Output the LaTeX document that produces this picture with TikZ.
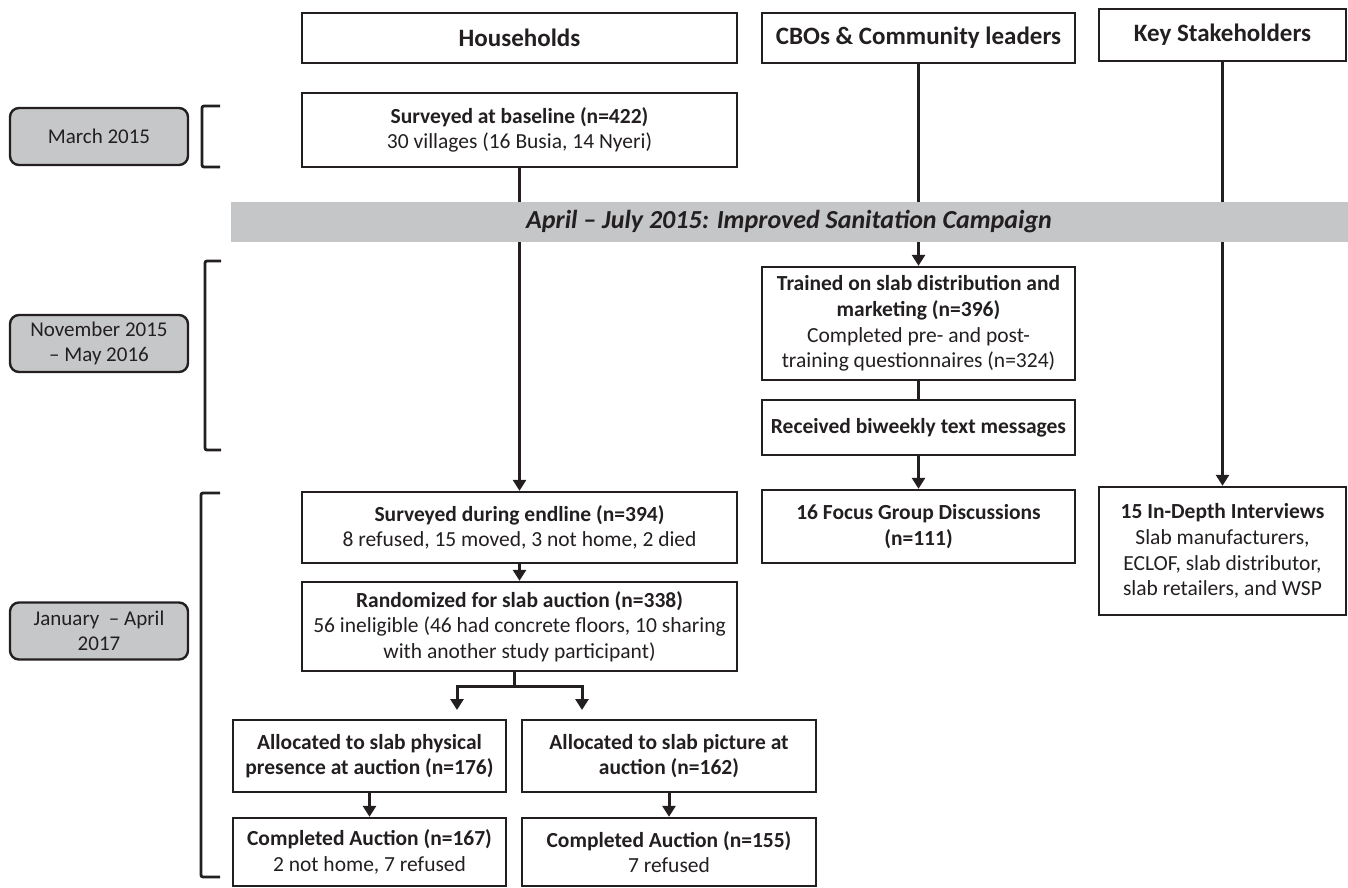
\documentclass[tikz,border=0pt]{standalone}
\usepackage{fontspec}
\setmainfont{Carlito}
\usetikzlibrary{arrows.meta, positioning}

\definecolor{ink}{HTML}{231F20}
\definecolor{bargray}{HTML}{C5C6C8}
\definecolor{dategray}{HTML}{C6C7C9}

\tikzset{
  box/.style={draw=ink, line width=2.4pt, text=ink, align=center, inner sep=0pt,
    font=\fontsize{21.5}{25.7}\selectfont},
  headbox/.style={box, font=\fontsize{25}{30}\selectfont\bfseries},
  datebox/.style={box, rounded corners=9pt, fill=dategray, minimum width=178pt,
    minimum height=57pt, font=\fontsize{21}{25.5}\selectfont},
  hhcol/.style={minimum width=435pt},
  cbocol/.style={minimum width=313pt},
  kscol/.style={minimum width=247pt},
  armcol/.style={minimum height=72pt},
  flow/.style={draw=ink, line width=3pt, -{Triangle[width=13pt,length=11pt]}},
  link/.style={draw=ink, line width=3pt},
  bracket/.style={draw=ink, line width=2.8pt, rounded corners=2pt},
}

\begin{document}
\begin{tikzpicture}[x=1pt, y=-1pt]
  \useasboundingbox (0,0) rectangle (1348,887);

  % column heads
  \node[headbox, hhcol, minimum height=50pt] (hh) at (519.5,38) {Households};
  \node[headbox, cbocol, minimum height=50pt] (cbo) at (918.5,38) {CBOs \& Community leaders};
  \node[headbox, kscol, minimum height=52pt] (ks) at (1222.5,35) {Key Stakeholders};

  % timeline
  \node[datebox] (mar15) at (99,136.5) {March 2015};
  \node[datebox] (nov15) at (99,343.5) {November 2015\\– May 2016};
  \node[datebox] (jan17) at (99,631) {January \ – April\\2017};

  \draw[bracket] (220,106) -- (202,106) -- (202,167) -- (220,167);
  \draw[bracket] (221,261) -- (205,261) -- (205,450) -- (221,450);
  \draw[bracket] (220,493) -- (201,493) -- (201,877) -- (220,877);

  % households
  \node[box, hhcol, minimum height=74pt] (base) at (519.5,130)
    {\textbf{Surveyed at baseline (n=422)}\\30 villages (16 Busia, 14 Nyeri)};
  \node[box, hhcol, minimum height=71pt] (endl) at (519.5,527.5)
    {\textbf{Surveyed during endline (n=394)}\\8 refused, 15 moved, 3 not home, 2 died};
  \node[box, hhcol, minimum height=89pt] (rand) at (519.5,626.5)
    {\textbf{Randomized for slab auction (n=338)}\\56 ineligible (46 had concrete floors, 10 sharing\\with another study participant)};
  \node[box, armcol, minimum width=273pt] (phys) at (369.5,756)
    {\textbf{Allocated to slab physical}\\\textbf{presence at auction (n=176)}};
  \node[box, armcol, minimum width=294pt] (pict) at (669,756)
    {\textbf{Allocated to slab picture at}\\\textbf{auction (n=162)}};
  \node[box, minimum width=273pt, minimum height=68pt] (physdone) at (369.5,852)
    {\textbf{Completed Auction (n=167)}\\2 not home, 7 refused};
  \node[box, minimum width=294pt, minimum height=68pt] (pictdone) at (669,852)
    {\textbf{Completed Auction (n=155)}\\7 refused};

  % CBOs
  \node[box, cbocol, minimum height=113pt] (train) at (918.5,323.5)
    {\textbf{Trained on slab distribution and}\\\textbf{marketing (n=396)}\\Completed pre- and post-\\training questionnaires (n=324)};
  \node[box, cbocol, minimum height=55pt] (sms) at (918.5,427.5)
    {\textbf{Received biweekly text messages}};
  \node[box, cbocol, minimum height=73pt] (fgd) at (918.5,526.5)
    {\textbf{16 Focus Group Discussions}\\\textbf{(n=111)}};

  % stakeholders
  \node[box, kscol, minimum height=128pt] (idi) at (1222.5,551)
    {\textbf{15 In-Depth Interviews}\\Slab manufacturers,\\ECLOF, slab distributor,\\slab retailers, and WSP};

  % connectors
  \draw[flow] (base) -- (endl);
  \draw[flow] (endl) -- (rand);
  \draw[flow] (cbo) -- (train);
  \draw[link] (train) -- (sms);
  \draw[flow] (sms) -- (fgd);
  \draw[flow] (ks) -- (idi);

  \coordinate (fork) at (514,686);
  \coordinate (tipL) at (457,710);
  \coordinate (tipR) at (582,710);
  \draw[link] (rand.south -| fork) -- (fork);
  \draw[flow] (fork) -| (tipL);
  \draw[flow] (fork) -| (tipR);

  \draw[flow] (phys) -- (physdone);
  \draw[flow] (pict) -- (pictdone);

  % campaign bar over the lines
  \node[fill=bargray, minimum width=1117pt, minimum height=40pt, inner sep=0pt, text=ink,
    font=\fontsize{26}{31}\selectfont\bfseries\itshape] (camp) at (789,222)
    {April – July 2015: Improved Sanitation Campaign};
\end{tikzpicture}
\end{document}
